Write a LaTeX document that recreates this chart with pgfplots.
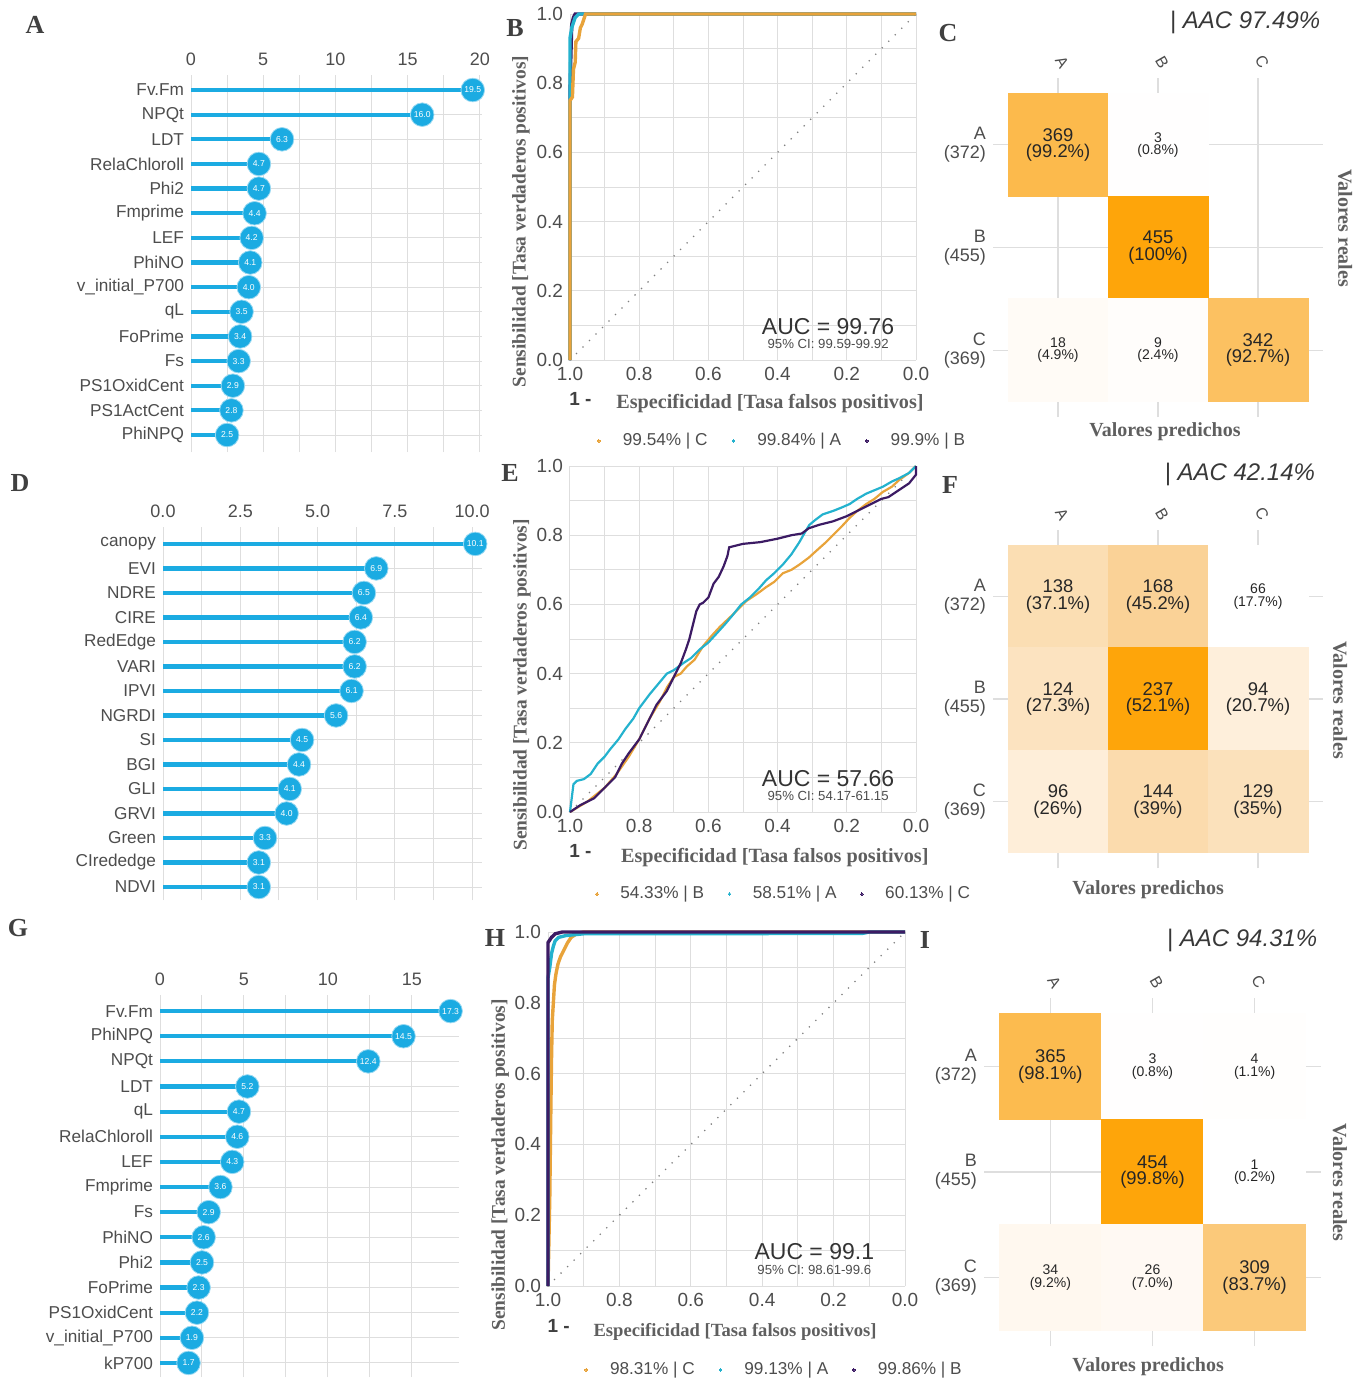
\documentclass[border=0pt]{standalone}
\usepackage{fontspec}
\setmainfont{Liberation Sans}
\newfontfamily\serifb{Liberation Serif}
\usepackage{pgfplots}
\usepackage{pgfplotstable}
\pgfplotsset{compat=1.18}
\definecolor{lcyan}{RGB}{27,171,226}
\definecolor{rorange}{RGB}{232,163,58}
\definecolor{rcyan}{RGB}{36,178,206}
\definecolor{rpurple}{RGB}{60,27,100}
\definecolor{gridc}{RGB}{222,222,222}
\definecolor{tickc}{RGB}{77,77,77}
\definecolor{titc}{RGB}{95,95,95}
\newcommand{\fsz}[1]{\fontsize{#1}{#1}\selectfont}

\pgfplotstableread{
name v
PhiNPQ 2.5
PS1ActCent 2.8
PS1OxidCent 2.9
Fs 3.3
FoPrime 3.4
qL 3.5
v\_initial\_P700 4.0
PhiNO 4.1
LEF 4.2
Fmprime 4.4
Phi2 4.7
RelaChloroll 4.7
LDT 6.3
NPQt 16.0
Fv.Fm 19.5
}\dataA
\pgfplotstableread{
name v
NDVI 3.1
CIrededge 3.1
Green 3.3
GRVI 4.0
GLI 4.1
BGI 4.4
SI 4.5
NGRDI 5.6
IPVI 6.1
VARI 6.2
RedEdge 6.2
CIRE 6.4
NDRE 6.5
EVI 6.9
canopy 10.1
}\dataD
\pgfplotstableread{
name v
kP700 1.7
v\_initial\_P700 1.9
PS1OxidCent 2.2
FoPrime 2.3
Phi2 2.5
PhiNO 2.6
Fs 2.9
Fmprime 3.6
LEF 4.3
RelaChloroll 4.6
qL 4.7
LDT 5.2
NPQt 12.4
PhiNPQ 14.5
Fv.Fm 17.3
}\dataG

\pgfplotsset{
 /pgf/number format/assume math mode=true,
 myLolli/.style={scale only axis, anchor=north west, ytick={1,...,15}, xmin=0,
  xticklabel pos=upper, axis line style={draw=none}, major tick length=0pt, minor tick length=0pt,
  xmajorgrids, xminorgrids, ymajorgrids,
  grid style={gridc, line width=0.5pt}, minor grid style={gridc, line width=0.5pt},
  xticklabel style={font=\fsz{9}, text=tickc, yshift=1pt},
  yticklabel style={font=\fsz{8.6}, text=tickc},
  clip=false},
 myStem/.style={xcomb, draw=lcyan, line width=2.1pt},
 myPt/.style={only marks, mark=*, mark size=5.9pt,
  mark options={fill=lcyan, draw=white!55!lcyan, line width=0.4pt},
  point meta=explicit symbolic,
  nodes near coords,
  every node near coord/.append style={anchor=center, font=\fsz{4.3}, text=white, inner sep=0pt}},
 myRoc/.style={scale only axis, anchor=north west, xmin=0, xmax=1, ymin=0, ymax=1, x dir=reverse,
  xtick={0,0.2,0.4,0.6,0.8,1}, ytick={0,0.2,0.4,0.6,0.8,1}, minor tick num=1, grid=both,
  grid style={gridc, line width=0.5pt}, minor grid style={gridc, line width=0.5pt},
  axis line style={draw=none}, major tick length=0pt, minor tick length=0pt,
  ticklabel style={font=\fsz{9.5}, text=tickc},
  xticklabel={\pgfmathprintnumber[fixed,fixed zerofill,precision=1]{\tick}},
  yticklabel={\pgfmathprintnumber[fixed,fixed zerofill,precision=1]{\tick}},
  clip=false,
  legend columns=3,
  legend style={draw=none, fill=none, font=\fsz{8.6}, text=tickc, anchor=center,
    /tikz/every even column/.append style={column sep=10pt}},
  legend image code/.code={\fill[##1, line width=0pt] (0cm,0cm) circle (0.65pt); \path (0cm,0cm) (0.32cm,0cm);}},
 myDiag/.style={draw=gray, line width=0.9pt, line cap=round, dash pattern=on 0pt off 4.6pt, forget plot},
 myCm/.style={scale only axis, anchor=north west, xmin=0.35, xmax=3.65, ymin=0.35, ymax=3.65,
  xtick={1,2,3}, ytick={1,2,3}, xticklabels={A,B,C},
  yticklabels={{C\\(369)},{B\\(455)},{A\\(372)}},
  xticklabel pos=upper, grid=major, grid style={gridc, line width=0.6pt},
  axis line style={draw=none}, major tick length=0pt,
  yticklabel style={align=right, font=\fontsize{9}{9.6}\selectfont, text=tickc},
  xticklabel style={yshift=8pt, xshift=2pt, rotate=-60, anchor=center, font=\fsz{8}, text=tickc},
  colormap={org}{rgb255(0cm)=(255,255,255) rgb255(17cm)=(254,238,218) rgb255(40cm)=(251,223,182) rgb255(60cm)=(250,210,150) rgb255(100cm)=(254,165,10)},
  clip=false},
 myCells/.style={scatter, only marks, mark=square*, point meta=explicit,
  scatter/use mapped color={draw=mapped color, fill=mapped color}},
 myBig/.style={only marks, mark=none, point meta=explicit symbolic,
  visualization depends on={value \thisrow{p}\as\pv},
  nodes near coords={\pgfplotspointmeta\\(\pv\%)},
  every node near coord/.append style={anchor=center, align=center, font=\fontsize{9.2}{8.2}\selectfont, text=black!85}},
 mySmall/.style={only marks, mark=none, point meta=explicit symbolic,
  visualization depends on={value \thisrow{p}\as\pv},
  nodes near coords={\pgfplotspointmeta\\(\pv\%)},
  every node near coord/.append style={anchor=center, align=center, font=\fontsize{7}{6.2}\selectfont, text=black!85}},
}
\newcommand{\rocdecor}[8]{%
 \node[font=\serifb\bfseries\fsz{#8}, text=titc, rotate=90] at (axis description cs:#1,#2) {Sensibilidad [Tasa verdaderos positivos]};
 \node[font=\bfseries\fsz{9.5}, text=black!75] at (axis description cs:0.03,-0.112) {1 -};
 \node[font=\serifb\bfseries\fsz{#5}, text=titc] at (axis description cs:#3,#4) {Especificidad [Tasa falsos positivos]};
 \node[font=\fsz{11.5}, text=black!80] at (axis description cs:0.746,0.098) {AUC = #6};
 \node[font=\fsz{6.6}, text=black!70] at (axis description cs:0.746,0.046) {95\% CI: #7};
}
\newcommand{\cmdecor}[7]{%
 \node[font=\serifb\bfseries\fsz{10}, text=titc, rotate=-90] at (axis description cs:#1,#2) {Valores reales};
 \node[font=\serifb\bfseries\fsz{10}, text=titc] at (axis description cs:#3,#4) {Valores predichos};
 \node[font=\itshape\fsz{12}, text=black!78] at (axis description cs:#5,#6) {| AAC #7\%};
}
\newcommand{\plabel}[3]{\node[font=\serifb\bfseries\fsz{13}, text=black!75] at (#1pt,#2pt) {#3};}

\begin{document}
\begin{tikzpicture}
\useasboundingbox (0pt,0pt) rectangle (684.5pt,-693.5pt);

% ---------------- A ----------------
\begin{axis}[myLolli, at={(95.5pt,-37.5pt)}, width=145.5pt, height=188.5pt,
  xmax=20.14, ymin=0.31, ymax=15.61, xtick={0,5,10,15,20}, minor x tick num=1,
  yticklabels from table={\dataA}{name}]
\addplot[myStem] table[x=v, y expr=\coordindex+1]{\dataA};
\addplot[myPt] table[x=v, y expr=\coordindex+1, meta=v]{\dataA};
\end{axis}

% ---------------- D ----------------
\begin{axis}[myLolli, at={(81.5pt,-263.5pt)}, width=159.5pt, height=186.5pt,
  xmax=10.32, ymin=0.47, ymax=15.69, xtick={0,2.5,5,7.5,10}, minor x tick num=1,
  xticklabel={\pgfmathprintnumber[fixed,fixed zerofill,precision=1]{\tick}},
  yticklabels from table={\dataD}{name}]
\addplot[myStem] table[x=v, y expr=\coordindex+1]{\dataD};
\addplot[myPt] table[x=v, y expr=\coordindex+1, meta=v]{\dataD};
\end{axis}

% ---------------- G ----------------
\begin{axis}[myLolli, at={(80pt,-497.5pt)}, width=149.5pt, height=191pt,
  xmax=17.8, ymin=0.44, ymax=15.64, xtick={0,5,10,15}, minor x tick num=1,
  yticklabels from table={\dataG}{name}]
\addplot[myStem] table[x=v, y expr=\coordindex+1]{\dataG};
\addplot[myPt] table[x=v, y expr=\coordindex+1, meta=v]{\dataG};
\end{axis}

% ---------------- B ----------------
\begin{axis}[myRoc, at={(285pt,-7pt)}, width=173pt, height=173pt,
  legend style={at={(0.616,-0.234)}}, reverse legend]
\addplot[myDiag] coordinates {(1,0) (0,1)};
\addplot[rpurple, line width=1.7pt] coordinates {(1,0) (1,0.77) (0.998,0.86) (0.995,0.97) (0.99,0.99) (0.985,1) (0,1)};
\addlegendentry{99.9\% | B}
\addplot[rcyan, line width=1.7pt] coordinates {(1,0) (1,0.93) (0.995,0.96) (0.99,0.975) (0.985,0.99) (0.975,1) (0,1)};
\addlegendentry{99.84\% | A}
\addplot[rorange, line width=1.7pt] coordinates {(1,0) (1,0.75) (0.993,0.76) (0.99,0.84) (0.985,0.86) (0.983,0.92) (0.975,0.93) (0.97,0.96) (0.965,0.97) (0.96,0.985) (0.955,1) (0,1)};
\addlegendentry{99.54\% | C}
\rocdecor{-0.142}{0.40}{0.578}{-0.127}{10.1}{99.76}{99.59-99.92}{9.7}
\end{axis}

% ---------------- E ----------------
\begin{axis}[myRoc, at={(285pt,-233pt)}, width=173pt, height=173pt,
  legend style={at={(0.621,-0.237)}}]
\addplot[myDiag] coordinates {(1,0) (0,1)};
\addplot[rorange, line width=1.1pt] coordinates {(1,0) (0.95,0.03) (0.9,0.07) (0.865,0.11) (0.83,0.16) (0.8,0.21) (0.77,0.27) (0.74,0.32) (0.72,0.36) (0.7,0.39) (0.68,0.4) (0.663,0.42) (0.64,0.44) (0.615,0.48) (0.59,0.51) (0.567,0.535) (0.53,0.57) (0.49,0.61) (0.46,0.63) (0.433,0.65) (0.41,0.665) (0.385,0.69) (0.36,0.7) (0.337,0.715) (0.31,0.735) (0.288,0.755) (0.26,0.78) (0.24,0.8) (0.215,0.825) (0.192,0.85) (0.17,0.87) (0.144,0.89) (0.12,0.905) (0.096,0.925) (0.07,0.94) (0.048,0.96) (0.02,0.98) (0,1)};
\addlegendentry{54.33\% | B}
\addplot[rcyan, line width=1.1pt] coordinates {(1,0) (0.99,0.08) (0.98,0.09) (0.96,0.095) (0.94,0.11) (0.92,0.14) (0.9,0.16) (0.885,0.18) (0.86,0.21) (0.84,0.24) (0.817,0.27) (0.8,0.3) (0.77,0.34) (0.745,0.37) (0.72,0.4) (0.7,0.41) (0.673,0.43) (0.65,0.445) (0.625,0.47) (0.6,0.49) (0.577,0.515) (0.55,0.545) (0.529,0.57) (0.505,0.6) (0.48,0.62) (0.455,0.645) (0.433,0.67) (0.41,0.69) (0.385,0.715) (0.36,0.745) (0.337,0.78) (0.32,0.81) (0.308,0.83) (0.29,0.845) (0.27,0.86) (0.24,0.87) (0.215,0.88) (0.192,0.89) (0.17,0.905) (0.144,0.92) (0.12,0.93) (0.096,0.94) (0.07,0.955) (0.048,0.965) (0.02,0.98) (0,1)};
\addlegendentry{58.51\% | A}
\addplot[rpurple, line width=1.1pt] coordinates {(1,0) (0.97,0.02) (0.93,0.04) (0.9,0.07) (0.87,0.1) (0.85,0.14) (0.83,0.17) (0.8,0.21) (0.77,0.27) (0.75,0.31) (0.72,0.35) (0.7,0.39) (0.68,0.43) (0.665,0.47) (0.655,0.5) (0.645,0.54) (0.635,0.58) (0.625,0.6) (0.615,0.605) (0.6,0.62) (0.585,0.66) (0.57,0.68) (0.556,0.71) (0.545,0.74) (0.54,0.765) (0.52,0.77) (0.5,0.775) (0.45,0.78) (0.4,0.79) (0.36,0.8) (0.33,0.805) (0.31,0.82) (0.28,0.83) (0.24,0.84) (0.2,0.855) (0.17,0.87) (0.14,0.885) (0.1,0.905) (0.08,0.91) (0.05,0.93) (0.02,0.95) (0,0.975) (0,1)};
\addlegendentry{60.13\% | C}
\rocdecor{-0.139}{0.367}{0.592}{-0.133}{10.1}{57.66}{54.17-61.15}{9.7}
\end{axis}

% ---------------- H ----------------
\begin{axis}[myRoc, at={(274pt,-466pt)}, width=178.5pt, height=177pt,
  legend style={at={(0.636,-0.237)}}]
\addplot[myDiag] coordinates {(1,0) (0,1)};
\addplot[rorange, line width=1.7pt] coordinates {(1,0) (0.995,0.25) (0.992,0.5) (0.99,0.65) (0.988,0.75) (0.985,0.8) (0.982,0.85) (0.978,0.88) (0.972,0.91) (0.965,0.93) (0.955,0.95) (0.945,0.97) (0.935,0.985) (0.92,0.995) (0.9,1) (0,1)};
\addlegendentry{98.31\% | C}
\addplot[rcyan, line width=1.7pt] coordinates {(1,0) (1,0.87) (0.995,0.9) (0.99,0.94) (0.985,0.96) (0.98,0.975) (0.97,0.985) (0.95,0.99) (0.9,0.995) (0.12,0.996) (0.1,1) (0,1)};
\addlegendentry{99.13\% | A}
\addplot[rpurple, line width=1.7pt] coordinates {(1,0) (1,0.97) (0.99,0.985) (0.98,0.995) (0.96,1) (0,1)};
\addlegendentry{99.86\% | B}
\rocdecor{-0.134}{0.342}{0.524}{-0.13}{9.3}{99.1}{98.61-99.6}{9.7}
\end{axis}

% ---------------- C ----------------
\begin{axis}[myCm, at={(496.5pt,-39pt)}, width=165pt, height=169.5pt, point meta min=0, point meta max=455]
\addplot[myCells, mark size=25pt, mark options={yscale=1.027}] table[meta=n]{
x y n
1 3 369
2 3 3
2 2 455
1 1 18
2 1 9
3 1 342
};
\addplot[myBig] table[meta=n]{
x y n p
1 3 369 99.2
2 2 455 100
3 1 342 92.7
};
\addplot[mySmall] table[meta=n]{
x y n p
2 3 3 0.8
1 1 18 4.9
2 1 9 2.4
};
\cmdecor{1.067}{0.557}{0.521}{-0.044}{0.764}{1.165}{97.49}
\end{axis}

% ---------------- F ----------------
\begin{axis}[myCm, at={(496.5pt,-265pt)}, width=165pt, height=169pt, point meta min=66, point meta max=237]
\addplot[myCells, mark size=25pt, mark options={yscale=1.024}] table[meta=n]{
x y n
1 3 138
2 3 168
3 3 66
1 2 124
2 2 237
3 2 94
1 1 96
2 1 144
3 1 129
};
\addplot[myBig] table[meta=n]{
x y n p
1 3 138 37.1
2 3 168 45.2
1 2 124 27.3
2 2 237 52.1
3 2 94 20.7
1 1 96 26
2 1 144 39
3 1 129 35
};
\addplot[mySmall] table[meta=n]{
x y n p
3 3 66 17.7
};
\cmdecor{1.052}{0.497}{0.47}{-0.065}{0.748}{1.163}{42.14}
\end{axis}

% ---------------- I ----------------
\begin{axis}[myCm, at={(492pt,-499pt)}, width=168.5pt, height=174pt, point meta min=0, point meta max=454]
\addplot[myCells, mark size=25.53pt, mark options={yscale=1.033}] table[meta=n]{
x y n
1 3 365
2 3 3
3 3 4
2 2 454
3 2 1
1 1 34
2 1 26
3 1 309
};
\addplot[myBig] table[meta=n]{
x y n p
1 3 365 98.1
2 2 454 99.8
3 1 309 83.7
};
\addplot[mySmall] table[meta=n]{
x y n p
2 3 3 0.8
3 3 4 1.1
3 2 1 0.2
1 1 34 9.2
2 1 26 7.0
};
\cmdecor{1.056}{0.47}{0.487}{-0.06}{0.766}{1.166}{94.31}
\end{axis}

\plabel{17.5}{-12.5}{A}
\plabel{257.5}{-14}{B}
\plabel{474}{-16.5}{C}
\plabel{10}{-241.5}{D}
\plabel{255}{-236.5}{E}
\plabel{475}{-242.5}{F}
\plabel{9}{-464}{G}
\plabel{247.5}{-469}{H}
\plabel{462.5}{-470}{I}
\end{tikzpicture}
\end{document}
